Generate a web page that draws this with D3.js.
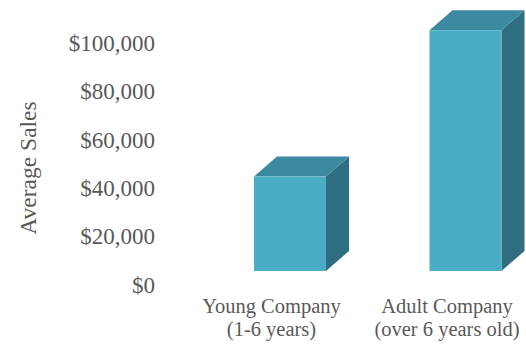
<!DOCTYPE html>
<html>
<head>
<meta charset="utf-8">
<script src="https://cdn.jsdelivr.net/npm/d3@7"></script>
<style>
  html, body { margin: 0; padding: 0; background: #ffffff; }
  svg { display: block; }
  text { font-family: "Liberation Serif", "Tinos", "Times New Roman", Times, "DejaVu Serif", serif; fill: #595959; }
</style>
</head>
<body>
<svg id="chart" width="526" height="346"></svg>
<script>
// Average sales by company age
const categories = ["Young Company|(1-6 years)", "Adult Company|(over 6 years old)"];
const averageSales = [39000, 99500];
const tickValues = [0, 20000, 40000, 60000, 80000, 100000];

const fontStack = '"Liberation Serif", "Tinos", "Times New Roman", Times, "DejaVu Serif", serif';

const svg = d3.select("#chart");

// value scale: floor of the front plane at y=271
const y = d3.scaleLinear().domain([0, 100000]).range([271, 29]);

// category positions (label centres)
const x = d3.scalePoint().domain(categories).range([271.5, 447]);

const barW = 72;      // front face width
const depthX = 23;    // 3D depth offset
const depthY = -20;
const barShift = 18.5; // bars sit slightly right of their labels

const colors = { front: "#4bacc6", top: "#3b8aa0", side: "#2f6e80" };

const bars = svg.append("g").selectAll("g")
  .data(categories.map((c, i) => ({ c, v: averageSales[i] })))
  .join("g");

bars.each(function(d) {
  const g = d3.select(this);
  const x0 = x(d.c) + barShift - barW / 2;
  const x1 = x0 + barW;
  const yb = y(0), yt = y(d.v);
  // side face
  g.append("path")
    .attr("d", `M${x1},${yt}L${x1 + depthX},${yt + depthY}L${x1 + depthX},${yb + depthY}L${x1},${yb}Z`)
    .attr("fill", colors.side);
  // top face
  g.append("path")
    .attr("d", `M${x0},${yt}L${x0 + depthX},${yt + depthY}L${x1 + depthX},${yt + depthY}L${x1},${yt}Z`)
    .attr("fill", colors.top);
  // front face
  g.append("rect")
    .attr("x", x0).attr("y", yt)
    .attr("width", barW).attr("height", yb - yt)
    .attr("fill", colors.front);
});

// value axis labels
const yAxis = d3.axisLeft(y)
  .tickValues(tickValues)
  .tickSize(0)
  .tickPadding(0)
  .tickFormat(d => "$" + d3.format(",")(d));

const yg = svg.append("g")
  .attr("transform", "translate(155,14)")
  .call(yAxis)
  .attr("font-family", fontStack)
  .attr("font-size", 23);
yg.select(".domain").remove();
yg.selectAll("text")
  .attr("fill", "#595959")
  .style("font-family", fontStack)
  .style("font-size", "23px");

// axis title
svg.append("text")
  .attr("transform", "translate(36,168) rotate(-90)")
  .attr("text-anchor", "middle")
  .style("font-family", fontStack)
  .style("font-size", "23.5px")
  .text("Average Sales");

// category labels (two lines each)
const labels = svg.append("g").selectAll("text")
  .data(categories)
  .join("text")
  .attr("text-anchor", "middle")
  .style("font-family", fontStack)
  .style("font-size", "20.5px");

labels.each(function(c) {
  const t = d3.select(this);
  c.split("|").forEach((line, i) => {
    t.append("tspan")
      .attr("x", x(c))
      .attr("y", 313 + i * 22.5)
      .text(line);
  });
});
</script>
</body>
</html>
